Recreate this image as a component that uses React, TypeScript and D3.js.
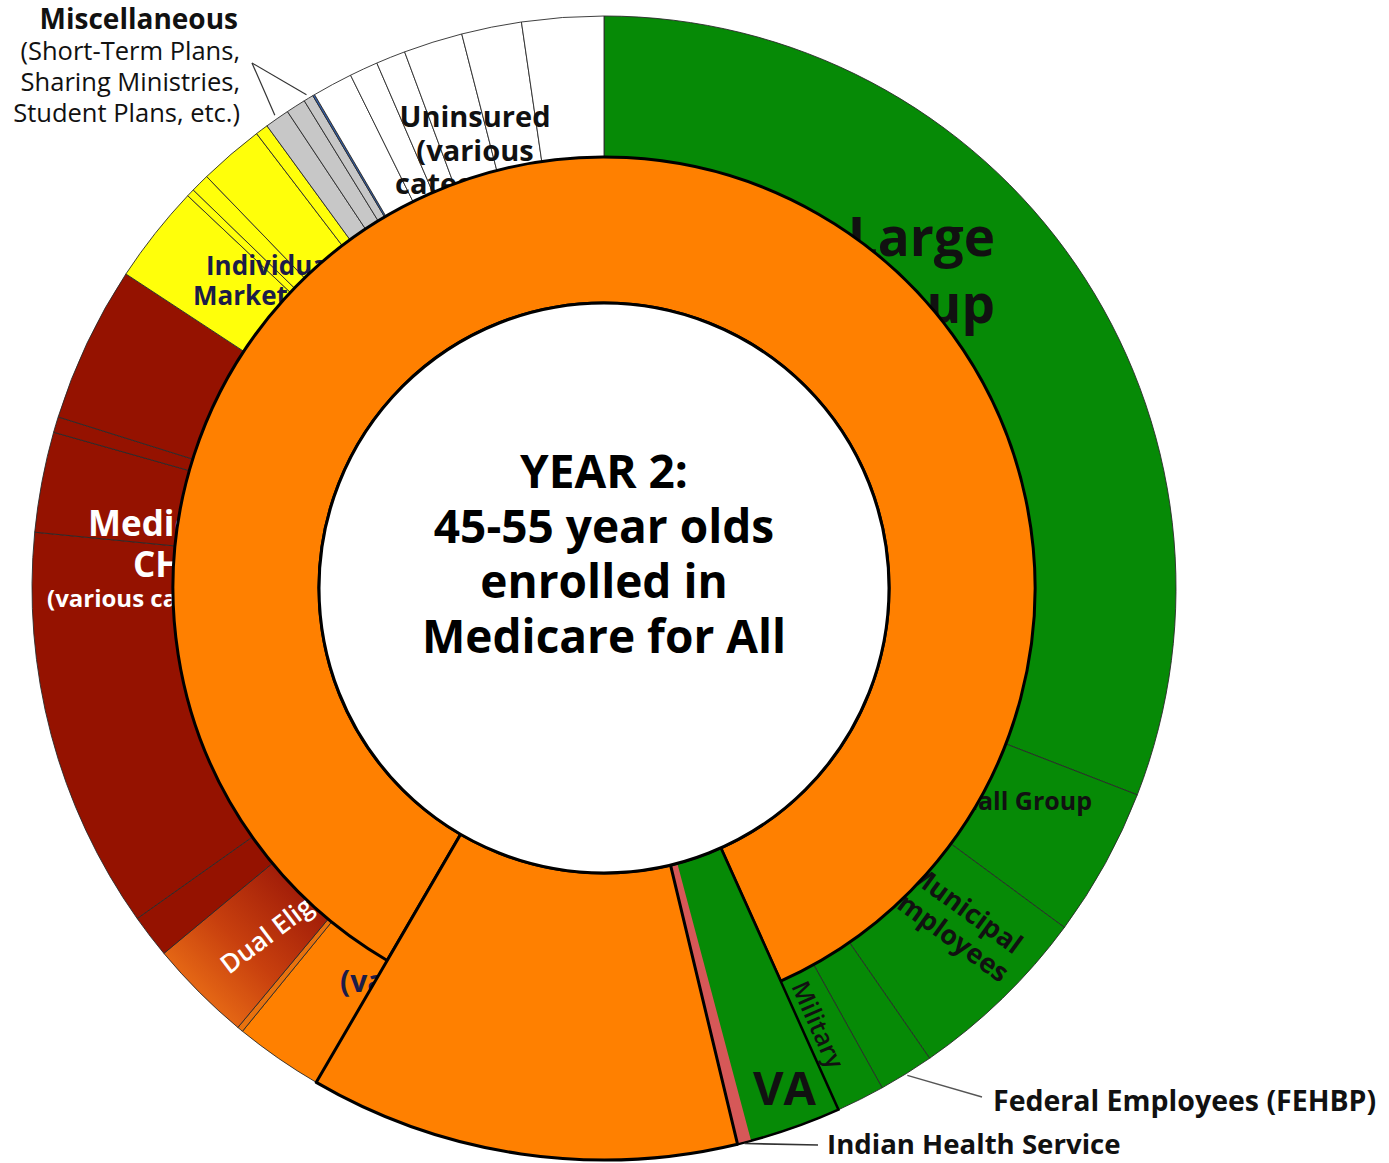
import React from "react";
import * as d3 from "d3";

// ---------- DATA (angular shares; total = 360) ----------
const segmentNames = [
  "Large Group", "Small Group", "Municipal Employees", "Federal Employees (FEHBP)", "Military",
  "VA", "Indian Health Service", "Medicare (45-55 newly enrolled)", "Medicare (various categories)", "Medicare other",
  "Dual Eligible", "Medicaid A", "Medicaid/CHIP", "Medicaid B", "Medicaid C", "Medicaid D",
  "Individual A", "Individual B", "Individual C", "Individual D", "Individual E",
  "Misc A", "Misc B", "Misc C", "Misc D",
  "Uninsured A", "Uninsured B", "Uninsured C", "Uninsured D", "Uninsured E", "Uninsured F",
];
const segmentValues = [
  111.2, 15.2, 18.9, 5.6, 4.9,
  9.3, 1.4, 43.7, 9.0, 0.6,
  10.5, 4.4, 40.9, 10.2, 1.6, 15.9,
  10.0, 0.8, 1.9, 6.6, 1.3,
  2.5, 2.0, 1.0, 0.2,
  4.1, 2.9, 3.0, 6.0, 6.1, 8.3,
];
const segmentGroups = [
  "employer", "employer", "employer", "employer", "employer",
  "employer", "ihs", "medicare", "medicare", "medicareSliver",
  "dual", "medicaid", "medicaid", "medicaid", "medicaid", "medicaid",
  "individual", "individual", "individual", "individual", "individual",
  "misc", "misc", "misc", "miscBlue",
  "uninsured", "uninsured", "uninsured", "uninsured", "uninsured", "uninsured",
];
// ring of people enrolled in Medicare for All: from this segment, clockwise, through this one
const ringFrom = "Medicare (various categories)";
const ringTo = "Military";
// segments drawn at full depth over the ring area
const fullDepthGreen = ["VA", "Indian Health Service"];
const fullDepthOrange = "Medicare (45-55 newly enrolled)";

const centerLines = ["YEAR 2:", "45-55 year olds", "enrolled in", "Medicare for All"];

// ---------- STYLES ----------
const groupColor: Record<string, string> = {
  employer: "#068a06",
  ihs: "#d65858",
  medicare: "#ff8000",
  medicareSliver: "#e8720e",
  dual: "url(#dualGrad)",
  medicaid: "#951200",
  individual: "#ffff0a",
  misc: "#c7c7c7",
  miscBlue: "#2f62b8",
  uninsured: "#ffffff",
};
const FONT = "'Open Sans', 'Lato', sans-serif";

export default function App() {
  const W = 1389, H = 1163;
  const cx = 604, cy = 588;
  const rOuter = 572, rRing = 431, rInner = 285;

  const pie = d3.pie<number>().sort(null).value((d) => d);
  const arcs = pie(segmentValues);
  const arcGen = d3.arc<any>();
  const idx = (n: string) => segmentNames.indexOf(n);
  const path = (a0: number, a1: number, r0: number, r1: number) =>
    arcGen({ innerRadius: r0, outerRadius: r1, startAngle: a0, endAngle: a1 }) as string;
  const polar = (a: number, r: number): [number, number] => [cx + r * Math.sin(a), cy - r * Math.cos(a)];
  const mid = (n: string) => (arcs[idx(n)].startAngle + arcs[idx(n)].endAngle) / 2;

  const ringStart = arcs[idx(ringFrom)].startAngle;
  const ringEnd = arcs[idx(ringTo)].endAngle + 2 * Math.PI;
  const greenStart = arcs[idx(fullDepthGreen[0])].startAngle;
  const greenEnd = arcs[idx(fullDepthGreen[1])].endAngle;
  const ihs = arcs[idx("Indian Health Service")];
  const big = arcs[idx(fullDepthOrange)];

  const misc1 = polar(mid("Misc A"), rOuter + 4);
  const misc2 = polar(mid("Misc C"), rOuter + 4);
  const fehbp = polar(mid("Federal Employees (FEHBP)"), rOuter + 2);
  const ihsPt = polar(mid("Indian Health Service"), rOuter + 1);

  const t = (x: number, y: number, s: string, size: number, opts: any = {}) => (
    <text
      x={x}
      y={y}
      fontFamily={FONT}
      fontSize={size}
      fontWeight={opts.weight ?? 700}
      fill={opts.fill ?? "#111"}
      textAnchor={opts.anchor ?? "start"}
      transform={opts.transform}
    >
      {s}
    </text>
  );

  return (
    <div style={{ position: "absolute", left: 0, top: 0, width: W, height: H, overflow: "hidden", background: "#fff" }}>
      <svg width={W} height={H} viewBox={`0 0 ${W} ${H}`}>
        <defs>
          <linearGradient id="dualGrad" gradientUnits="userSpaceOnUse" x1={175} y1={1000} x2={290} y2={885}>
            <stop offset="0" stopColor="#ea6e16" />
            <stop offset="0.45" stopColor="#c8400e" />
            <stop offset="1" stopColor="#9e1a08" />
          </linearGradient>
        </defs>
        <rect width={W} height={H} fill="#fff" />

        {/* base outer ring */}
        <g transform={`translate(${cx},${cy})`}>
          {arcs.map((a, i) => (
            <path
              key={i}
              d={path(a.startAngle, a.endAngle, rInner, rOuter)}
              fill={groupColor[segmentGroups[i]]}
              stroke="#2a2a2a"
              strokeWidth={0.9}
            />
          ))}
        </g>

        {/* labels on the base ring (partly hidden by overlays) */}
        {t(995, 256, "Large", 53, { anchor: "end" })}
        {t(995, 323, "Group", 53, { anchor: "end" })}
        {t(1092, 810, "Small Group", 25, { anchor: "end" })}
        <g transform="translate(960,916) rotate(36)">
          {t(0, 0, "Municipal", 27, { anchor: "middle" })}
          {t(0, 31, "Employees", 27, { anchor: "middle" })}
        </g>
        {t(0, 0, "Military", 25, { weight: 600, transform: "translate(791,986) rotate(66)" })}
        {t(340, 992, "(various categories)", 30, { fill: "#1c1c48" })}
        {t(0, 0, "Dual Eligibles", 26, { weight: 600, fill: "#fff", transform: "translate(229,975) rotate(-37)" })}
        {t(88, 536, "Medicaid/", 35, { fill: "#fff" })}
        {t(133, 577, "CHIP", 35, { fill: "#fff" })}
        {t(47, 607, "(various categories)", 24, { fill: "#fff" })}
        {t(206, 275, "Individual", 26, { fill: "#1c1c48" })}
        {t(193, 305, "Market", 26, { fill: "#1c1c48" })}
        {t(475, 127, "Uninsured", 29, { anchor: "middle" })}
        {t(475, 161, "(various", 29, { anchor: "middle" })}
        {t(475, 194, "categories)", 29, { anchor: "middle" })}

        {/* overlays */}
        <g transform={`translate(${cx},${cy})`}>
          <path d={path(ringStart, ringEnd, rInner, rRing)} fill="#ff8000" stroke="#000" strokeWidth={3} strokeLinejoin="round" />
          <path d={path(greenStart, greenEnd, rInner, rOuter)} fill="#068a06" stroke="#000" strokeWidth={2.5} />
          <path d={path(ihs.startAngle, ihs.endAngle, rInner + 1.5, rOuter - 1)} fill="#d65858" />
          <path d={path(big.startAngle, big.endAngle, rInner, rOuter)} fill="#ff8000" stroke="#000" strokeWidth={3} strokeLinejoin="round" />
          <circle r={rInner} fill="#fff" stroke="#000" strokeWidth={3} />
        </g>
        {t(753, 1105, "VA", 47)}

        {/* centre title */}
        {centerLines.map((s, i) => t(cx, 488 + i * 55, s, 46, { anchor: "middle", fill: "#000" }))}

        {/* outside labels and leaders */}
        {t(238, 29, "Miscellaneous", 28, { anchor: "end" })}
        {t(240, 60, "(Short-Term Plans,", 25.5, { anchor: "end", weight: 500 })}
        {t(240, 91, "Sharing Ministries,", 25.5, { anchor: "end", weight: 500 })}
        {t(240, 122, "Student Plans, etc.)", 25.5, { anchor: "end", weight: 500 })}
        <line x1={252} y1={63} x2={misc1[0]} y2={misc1[1]} stroke="#333" strokeWidth={1.2} />
        <line x1={252} y1={63} x2={misc2[0]} y2={misc2[1]} stroke="#333" strokeWidth={1.2} />
        <line x1={fehbp[0]} y1={fehbp[1]} x2={982} y2={1097} stroke="#555" strokeWidth={1.4} />
        {t(993, 1111, "Federal Employees (FEHBP)", 28.5)}
        <line x1={ihsPt[0]} y1={ihsPt[1]} x2={818} y2={1145} stroke="#333" strokeWidth={1.6} />
        {t(827, 1154, "Indian Health Service", 27.6)}
      </svg>
    </div>
  );
}
